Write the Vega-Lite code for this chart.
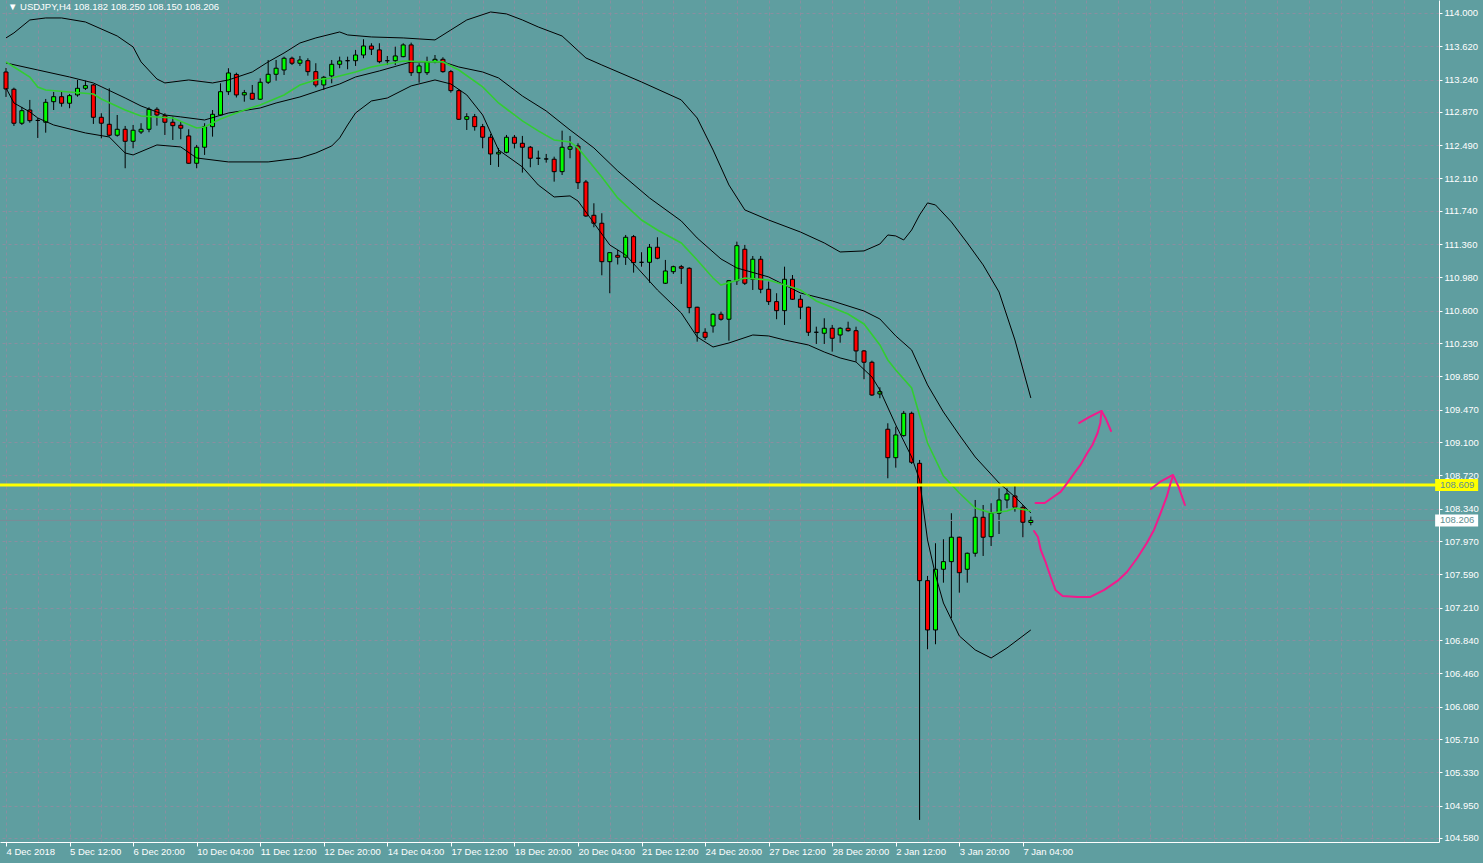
{
  "$schema": "https://vega.github.io/schema/vega-lite/v6.json",
  "width": 1439,
  "height": 842,
  "padding": {"left": 0, "top": 0, "right": 44, "bottom": 21},
  "autosize": {"type": "none"},
  "background": "#5F9EA0",
  "config": {
    "view": {"stroke": null},
    "axis": {"grid": true, "gridColor": "#8a8ea0", "gridDash": [3, 3], "gridWidth": 1, "domainColor": "#ffffff", "domainWidth": 1, "tickColor": "#ffffff", "labelColor": "#ffffff", "labelFont": "Liberation Sans", "labelFontSize": 9.5, "labelOverlap": false, "labelBound": false, "labelFlush": false},
    "axisX": {"labelAlign": "left", "labelBaseline": "top", "labelPadding": 0, "tickSize": 4},
    "axisY": {"labelAlign": "left", "labelBaseline": "middle", "labelPadding": 2, "tickSize": 3}
  },
  "datasets": {
    "candles": [
      {"bar":0,"open":113.326,"high":113.372,"low":113.041,"close":113.132},
      {"bar":1,"open":113.129,"high":113.147,"low":112.710,"close":112.741},
      {"bar":2,"open":112.741,"high":112.927,"low":112.721,"close":112.884},
      {"bar":3,"open":112.892,"high":113.007,"low":112.747,"close":112.770},
      {"bar":4,"open":112.773,"high":112.801,"low":112.573,"close":112.773},
      {"bar":5,"open":112.752,"high":113.018,"low":112.633,"close":112.980},
      {"bar":6,"open":112.987,"high":113.098,"low":112.892,"close":113.044},
      {"bar":7,"open":113.044,"high":113.101,"low":112.930,"close":112.969},
      {"bar":8,"open":112.969,"high":113.075,"low":112.912,"close":113.056},
      {"bar":9,"open":113.064,"high":113.235,"low":113.044,"close":113.140},
      {"bar":10,"open":113.140,"high":113.227,"low":113.121,"close":113.170},
      {"bar":11,"open":113.178,"high":113.189,"low":112.733,"close":112.809},
      {"bar":12,"open":112.809,"high":112.855,"low":112.569,"close":112.741},
      {"bar":13,"open":112.729,"high":113.140,"low":112.588,"close":112.604},
      {"bar":14,"open":112.604,"high":112.835,"low":112.588,"close":112.672},
      {"bar":15,"open":112.672,"high":112.710,"low":112.227,"close":112.535},
      {"bar":16,"open":112.535,"high":112.721,"low":112.455,"close":112.661},
      {"bar":17,"open":112.641,"high":112.741,"low":112.618,"close":112.672},
      {"bar":18,"open":112.672,"high":112.923,"low":112.638,"close":112.900},
      {"bar":19,"open":112.900,"high":112.923,"low":112.713,"close":112.835},
      {"bar":20,"open":112.827,"high":112.855,"low":112.607,"close":112.752},
      {"bar":21,"open":112.752,"high":112.816,"low":112.550,"close":112.713},
      {"bar":22,"open":112.718,"high":112.759,"low":112.558,"close":112.684},
      {"bar":23,"open":112.596,"high":112.672,"low":112.280,"close":112.284},
      {"bar":24,"open":112.284,"high":112.493,"low":112.227,"close":112.467},
      {"bar":25,"open":112.467,"high":112.741,"low":112.379,"close":112.702},
      {"bar":26,"open":112.702,"high":112.892,"low":112.588,"close":112.843},
      {"bar":27,"open":112.835,"high":113.197,"low":112.824,"close":113.101},
      {"bar":28,"open":113.101,"high":113.369,"low":113.064,"close":113.315},
      {"bar":29,"open":113.298,"high":113.318,"low":113.035,"close":113.064},
      {"bar":30,"open":113.064,"high":113.121,"low":112.987,"close":113.090},
      {"bar":31,"open":113.083,"high":113.178,"low":113.007,"close":113.015},
      {"bar":32,"open":113.015,"high":113.254,"low":113.007,"close":113.209},
      {"bar":33,"open":113.209,"high":113.463,"low":113.189,"close":113.300},
      {"bar":34,"open":113.300,"high":113.463,"low":113.227,"close":113.369},
      {"bar":35,"open":113.349,"high":113.501,"low":113.292,"close":113.483},
      {"bar":36,"open":113.483,"high":113.501,"low":113.406,"close":113.426},
      {"bar":37,"open":113.426,"high":113.509,"low":113.395,"close":113.463},
      {"bar":38,"open":113.455,"high":113.483,"low":113.284,"close":113.330},
      {"bar":39,"open":113.330,"high":113.426,"low":113.152,"close":113.178},
      {"bar":40,"open":113.178,"high":113.281,"low":113.121,"close":113.266},
      {"bar":41,"open":113.281,"high":113.463,"low":113.197,"close":113.414},
      {"bar":42,"open":113.414,"high":113.501,"low":113.369,"close":113.452},
      {"bar":43,"open":113.455,"high":113.501,"low":113.357,"close":113.455},
      {"bar":44,"open":113.455,"high":113.578,"low":113.395,"close":113.520},
      {"bar":45,"open":113.520,"high":113.700,"low":113.483,"close":113.623},
      {"bar":46,"open":113.623,"high":113.654,"low":113.520,"close":113.586},
      {"bar":47,"open":113.578,"high":113.654,"low":113.426,"close":113.444},
      {"bar":48,"open":113.455,"high":113.509,"low":113.406,"close":113.455},
      {"bar":49,"open":113.455,"high":113.615,"low":113.406,"close":113.509},
      {"bar":50,"open":113.501,"high":113.654,"low":113.494,"close":113.635},
      {"bar":51,"open":113.635,"high":113.661,"low":113.281,"close":113.318},
      {"bar":52,"open":113.318,"high":113.426,"low":113.204,"close":113.395},
      {"bar":53,"open":113.318,"high":113.501,"low":113.292,"close":113.444},
      {"bar":54,"open":113.444,"high":113.520,"low":113.426,"close":113.471},
      {"bar":55,"open":113.471,"high":113.494,"low":113.318,"close":113.330},
      {"bar":56,"open":113.330,"high":113.349,"low":113.090,"close":113.113},
      {"bar":57,"open":113.113,"high":113.129,"low":112.778,"close":112.786},
      {"bar":58,"open":112.786,"high":112.855,"low":112.664,"close":112.816},
      {"bar":59,"open":112.816,"high":112.847,"low":112.656,"close":112.702},
      {"bar":60,"open":112.702,"high":112.733,"low":112.455,"close":112.581},
      {"bar":61,"open":112.581,"high":112.618,"low":112.264,"close":112.390},
      {"bar":62,"open":112.390,"high":112.459,"low":112.242,"close":112.409},
      {"bar":63,"open":112.409,"high":112.607,"low":112.398,"close":112.581},
      {"bar":64,"open":112.581,"high":112.607,"low":112.453,"close":112.512},
      {"bar":65,"open":112.512,"high":112.596,"low":112.177,"close":112.467},
      {"bar":66,"open":112.467,"high":112.481,"low":112.238,"close":112.341},
      {"bar":67,"open":112.341,"high":112.428,"low":112.264,"close":112.341},
      {"bar":68,"open":112.333,"high":112.390,"low":112.291,"close":112.333},
      {"bar":69,"open":112.330,"high":112.359,"low":112.074,"close":112.188},
      {"bar":70,"open":112.188,"high":112.656,"low":112.150,"close":112.467},
      {"bar":71,"open":112.444,"high":112.596,"low":112.341,"close":112.473},
      {"bar":72,"open":112.481,"high":112.512,"low":111.990,"close":112.062},
      {"bar":73,"open":112.070,"high":112.093,"low":111.671,"close":111.682},
      {"bar":74,"open":111.690,"high":111.827,"low":111.553,"close":111.599},
      {"bar":75,"open":111.599,"high":111.713,"low":111.005,"close":111.160},
      {"bar":76,"open":111.160,"high":111.263,"low":110.800,"close":111.263},
      {"bar":77,"open":111.233,"high":111.294,"low":111.128,"close":111.211},
      {"bar":78,"open":111.211,"high":111.465,"low":111.123,"close":111.439},
      {"bar":79,"open":111.446,"high":111.465,"low":111.035,"close":111.149},
      {"bar":80,"open":111.153,"high":111.268,"low":111.103,"close":111.153},
      {"bar":81,"open":111.153,"high":111.362,"low":110.920,"close":111.325},
      {"bar":82,"open":111.325,"high":111.439,"low":111.188,"close":111.199},
      {"bar":83,"open":110.914,"high":111.180,"low":110.906,"close":111.054},
      {"bar":84,"open":111.046,"high":111.115,"low":111.020,"close":111.103},
      {"bar":85,"open":111.103,"high":111.123,"low":110.906,"close":111.085},
      {"bar":86,"open":111.085,"high":111.096,"low":110.571,"close":110.635},
      {"bar":87,"open":110.640,"high":110.645,"low":110.247,"close":110.350},
      {"bar":88,"open":110.354,"high":110.400,"low":110.266,"close":110.297},
      {"bar":89,"open":110.426,"high":110.571,"low":110.350,"close":110.560},
      {"bar":90,"open":110.560,"high":110.589,"low":110.487,"close":110.503},
      {"bar":91,"open":110.503,"high":110.951,"low":110.258,"close":110.943},
      {"bar":92,"open":110.943,"high":111.389,"low":110.894,"close":111.343},
      {"bar":93,"open":111.302,"high":111.351,"low":110.894,"close":110.914},
      {"bar":94,"open":110.959,"high":111.225,"low":110.837,"close":111.188},
      {"bar":95,"open":111.188,"high":111.225,"low":110.800,"close":110.845},
      {"bar":96,"open":110.845,"high":110.932,"low":110.666,"close":110.704},
      {"bar":97,"open":110.704,"high":110.800,"low":110.503,"close":110.601},
      {"bar":98,"open":110.601,"high":111.103,"low":110.438,"close":110.959},
      {"bar":99,"open":110.959,"high":111.008,"low":110.723,"close":110.731},
      {"bar":100,"open":110.731,"high":110.780,"low":110.503,"close":110.640},
      {"bar":101,"open":110.640,"high":110.647,"low":110.312,"close":110.354},
      {"bar":102,"open":110.354,"high":110.418,"low":110.221,"close":110.354},
      {"bar":103,"open":110.343,"high":110.514,"low":110.221,"close":110.400},
      {"bar":104,"open":110.400,"high":110.438,"low":110.133,"close":110.286},
      {"bar":105,"open":110.323,"high":110.411,"low":110.235,"close":110.400},
      {"bar":106,"open":110.400,"high":110.475,"low":110.361,"close":110.372},
      {"bar":107,"open":110.372,"high":110.418,"low":110.019,"close":110.141},
      {"bar":108,"open":110.141,"high":110.152,"low":109.818,"close":110.012},
      {"bar":109,"open":110.012,"high":110.030,"low":109.627,"close":109.638},
      {"bar":110,"open":109.650,"high":109.726,"low":109.601,"close":109.676},
      {"bar":111,"open":109.247,"high":109.315,"low":108.687,"close":108.922},
      {"bar":112,"open":108.922,"high":109.276,"low":108.808,"close":109.182},
      {"bar":113,"open":109.174,"high":109.456,"low":109.162,"close":109.429},
      {"bar":114,"open":109.429,"high":109.448,"low":108.850,"close":108.870},
      {"bar":115,"open":108.858,"high":108.896,"low":104.786,"close":107.518},
      {"bar":116,"open":107.518,"high":107.572,"low":106.735,"close":106.955},
      {"bar":117,"open":106.955,"high":107.945,"low":106.792,"close":107.648},
      {"bar":118,"open":107.648,"high":107.991,"low":107.495,"close":107.735},
      {"bar":119,"open":107.735,"high":108.288,"low":107.089,"close":108.014},
      {"bar":120,"open":108.014,"high":108.020,"low":107.381,"close":107.609},
      {"bar":121,"open":107.648,"high":107.838,"low":107.495,"close":107.831},
      {"bar":122,"open":107.831,"high":108.439,"low":107.792,"close":108.242},
      {"bar":123,"open":108.242,"high":108.382,"low":107.800,"close":108.014},
      {"bar":124,"open":108.020,"high":108.402,"low":107.914,"close":108.288},
      {"bar":125,"open":108.288,"high":108.573,"low":108.051,"close":108.439},
      {"bar":126,"open":108.439,"high":108.573,"low":108.345,"close":108.508},
      {"bar":127,"open":108.485,"high":108.611,"low":108.306,"close":108.356},
      {"bar":128,"open":108.356,"high":108.382,"low":108.014,"close":108.185},
      {"bar":129,"open":108.182,"high":108.250,"low":108.150,"close":108.206}
    ],
    "bands": [
      {"bar":0,"s":"U","v":113.715},{"bar":1,"s":"U","v":113.772},{"bar":3,"s":"U","v":113.920},{"bar":5,"s":"U","v":113.943},{"bar":7,"s":"U","v":113.943},{"bar":10,"s":"U","v":113.897},{"bar":14,"s":"U","v":113.737},{"bar":16,"s":"U","v":113.612},{"bar":17,"s":"U","v":113.441},{"bar":19,"s":"U","v":113.246},{"bar":20,"s":"U","v":113.201},{"bar":23,"s":"U","v":113.235},{"bar":26,"s":"U","v":113.201},{"bar":28,"s":"U","v":113.235},{"bar":31,"s":"U","v":113.326},{"bar":33,"s":"U","v":113.441},{"bar":35,"s":"U","v":113.543},{"bar":37,"s":"U","v":113.657},{"bar":39,"s":"U","v":113.715},{"bar":42,"s":"U","v":113.783},{"bar":43,"s":"U","v":113.749},{"bar":46,"s":"U","v":113.726},{"bar":50,"s":"U","v":113.715},{"bar":54,"s":"U","v":113.692},{"bar":56,"s":"U","v":113.806},{"bar":58,"s":"U","v":113.920},{"bar":61,"s":"U","v":114.011},{"bar":63,"s":"U","v":113.989},{"bar":65,"s":"U","v":113.920},{"bar":67,"s":"U","v":113.840},{"bar":70,"s":"U","v":113.737},{"bar":73,"s":"U","v":113.486},{"bar":75,"s":"U","v":113.406},{"bar":80,"s":"U","v":113.212},{"bar":85,"s":"U","v":113.007},{"bar":87,"s":"U","v":112.801},{"bar":89,"s":"U","v":112.436},{"bar":91,"s":"U","v":112.036},{"bar":93,"s":"U","v":111.751},{"bar":96,"s":"U","v":111.636},{"bar":100,"s":"U","v":111.499},{"bar":103,"s":"U","v":111.374},{"bar":105,"s":"U","v":111.271},{"bar":108,"s":"U","v":111.283},{"bar":110,"s":"U","v":111.362},{"bar":111,"s":"U","v":111.465},{"bar":112,"s":"U","v":111.454},{"bar":113,"s":"U","v":111.408},{"bar":114,"s":"U","v":111.522},{"bar":115,"s":"U","v":111.694},{"bar":116,"s":"U","v":111.831},{"bar":117,"s":"U","v":111.808},{"bar":119,"s":"U","v":111.614},{"bar":121,"s":"U","v":111.374},{"bar":123,"s":"U","v":111.123},{"bar":125,"s":"U","v":110.814},{"bar":127,"s":"U","v":110.266},{"bar":129,"s":"U","v":109.604},
      {"bar":0,"s":"M","v":113.429},{"bar":4,"s":"M","v":113.349},{"bar":8,"s":"M","v":113.269},{"bar":11,"s":"M","v":113.201},{"bar":15,"s":"M","v":113.029},{"bar":17,"s":"M","v":112.938},{"bar":20,"s":"M","v":112.835},{"bar":22,"s":"M","v":112.813},{"bar":25,"s":"M","v":112.778},{"bar":28,"s":"M","v":112.858},{"bar":32,"s":"M","v":112.915},{"bar":34,"s":"M","v":112.972},{"bar":37,"s":"M","v":113.041},{"bar":40,"s":"M","v":113.132},{"bar":42,"s":"M","v":113.189},{"bar":44,"s":"M","v":113.269},{"bar":47,"s":"M","v":113.338},{"bar":51,"s":"M","v":113.441},{"bar":55,"s":"M","v":113.441},{"bar":57,"s":"M","v":113.383},{"bar":60,"s":"M","v":113.326},{"bar":62,"s":"M","v":113.258},{"bar":65,"s":"M","v":113.052},{"bar":68,"s":"M","v":112.881},{"bar":71,"s":"M","v":112.664},{"bar":74,"s":"M","v":112.459},{"bar":77,"s":"M","v":112.196},{"bar":81,"s":"M","v":111.888},{"bar":85,"s":"M","v":111.625},{"bar":87,"s":"M","v":111.431},{"bar":90,"s":"M","v":111.191},{"bar":92,"s":"M","v":111.088},{"bar":96,"s":"M","v":110.986},{"bar":100,"s":"M","v":110.803},{"bar":104,"s":"M","v":110.712},{"bar":108,"s":"M","v":110.597},{"bar":110,"s":"M","v":110.506},{"bar":112,"s":"M","v":110.312},{"bar":114,"s":"M","v":110.152},{"bar":116,"s":"M","v":109.753},{"bar":118,"s":"M","v":109.444},{"bar":120,"s":"M","v":109.182},{"bar":122,"s":"M","v":108.930},{"bar":125,"s":"M","v":108.634},{"bar":127,"s":"M","v":108.474},{"bar":129,"s":"M","v":108.291},
      {"bar":0,"s":"L","v":113.144},{"bar":1,"s":"L","v":112.972},{"bar":3,"s":"L","v":112.870},{"bar":4,"s":"L","v":112.801},{"bar":6,"s":"L","v":112.721},{"bar":10,"s":"L","v":112.630},{"bar":13,"s":"L","v":112.584},{"bar":15,"s":"L","v":112.401},{"bar":16,"s":"L","v":112.379},{"bar":19,"s":"L","v":112.493},{"bar":22,"s":"L","v":112.470},{"bar":24,"s":"L","v":112.344},{"bar":28,"s":"L","v":112.299},{"bar":33,"s":"L","v":112.299},{"bar":37,"s":"L","v":112.344},{"bar":39,"s":"L","v":112.401},{"bar":41,"s":"L","v":112.481},{"bar":42,"s":"L","v":112.573},{"bar":43,"s":"L","v":112.721},{"bar":44,"s":"L","v":112.858},{"bar":46,"s":"L","v":112.995},{"bar":48,"s":"L","v":113.029},{"bar":51,"s":"L","v":113.167},{"bar":54,"s":"L","v":113.235},{"bar":56,"s":"L","v":113.189},{"bar":58,"s":"L","v":113.064},{"bar":60,"s":"L","v":112.835},{"bar":62,"s":"L","v":112.436},{"bar":65,"s":"L","v":112.242},{"bar":67,"s":"L","v":112.036},{"bar":69,"s":"L","v":111.899},{"bar":71,"s":"L","v":111.911},{"bar":72,"s":"L","v":111.853},{"bar":74,"s":"L","v":111.602},{"bar":76,"s":"L","v":111.351},{"bar":78,"s":"L","v":111.237},{"bar":82,"s":"L","v":110.837},{"bar":85,"s":"L","v":110.574},{"bar":87,"s":"L","v":110.301},{"bar":89,"s":"L","v":110.186},{"bar":91,"s":"L","v":110.232},{"bar":94,"s":"L","v":110.323},{"bar":96,"s":"L","v":110.312},{"bar":98,"s":"L","v":110.266},{"bar":101,"s":"L","v":110.209},{"bar":103,"s":"L","v":110.129},{"bar":105,"s":"L","v":110.061},{"bar":107,"s":"L","v":110.015},{"bar":109,"s":"L","v":109.844},{"bar":110,"s":"L","v":109.695},{"bar":112,"s":"L","v":109.296},{"bar":114,"s":"L","v":108.930},{"bar":115,"s":"L","v":108.668},{"bar":116,"s":"L","v":107.983},{"bar":117,"s":"L","v":107.583},{"bar":118,"s":"L","v":107.263},{"bar":120,"s":"L","v":106.887},{"bar":122,"s":"L","v":106.727},{"bar":124,"s":"L","v":106.635},{"bar":126,"s":"L","v":106.750},{"bar":129,"s":"L","v":106.955},
      {"bar":0,"s":"G","v":113.441},{"bar":1,"s":"G","v":113.383},{"bar":3,"s":"G","v":113.269},{"bar":4,"s":"G","v":113.155},{"bar":5,"s":"G","v":113.121},{"bar":8,"s":"G","v":113.098},{"bar":11,"s":"G","v":113.075},{"bar":12,"s":"G","v":113.018},{"bar":15,"s":"G","v":112.892},{"bar":17,"s":"G","v":112.824},{"bar":21,"s":"G","v":112.801},{"bar":24,"s":"G","v":112.687},{"bar":25,"s":"G","v":112.698},{"bar":27,"s":"G","v":112.790},{"bar":30,"s":"G","v":112.892},{"bar":32,"s":"G","v":112.950},{"bar":35,"s":"G","v":113.064},{"bar":37,"s":"G","v":113.178},{"bar":39,"s":"G","v":113.235},{"bar":41,"s":"G","v":113.258},{"bar":44,"s":"G","v":113.326},{"bar":46,"s":"G","v":113.383},{"bar":50,"s":"G","v":113.452},{"bar":53,"s":"G","v":113.441},{"bar":55,"s":"G","v":113.441},{"bar":57,"s":"G","v":113.349},{"bar":60,"s":"G","v":113.155},{"bar":62,"s":"G","v":112.972},{"bar":65,"s":"G","v":112.767},{"bar":67,"s":"G","v":112.653},{"bar":69,"s":"G","v":112.550},{"bar":71,"s":"G","v":112.527},{"bar":72,"s":"G","v":112.459},{"bar":75,"s":"G","v":112.127},{"bar":77,"s":"G","v":111.888},{"bar":80,"s":"G","v":111.636},{"bar":82,"s":"G","v":111.522},{"bar":85,"s":"G","v":111.374},{"bar":87,"s":"G","v":111.180},{"bar":89,"s":"G","v":110.974},{"bar":90,"s":"G","v":110.894},{"bar":93,"s":"G","v":110.974},{"bar":96,"s":"G","v":110.951},{"bar":100,"s":"G","v":110.837},{"bar":102,"s":"G","v":110.712},{"bar":106,"s":"G","v":110.563},{"bar":108,"s":"G","v":110.449},{"bar":110,"s":"G","v":110.209},{"bar":111,"s":"G","v":110.038},{"bar":112,"s":"G","v":109.924},{"bar":114,"s":"G","v":109.718},{"bar":116,"s":"G","v":109.090},{"bar":118,"s":"G","v":108.713},{"bar":120,"s":"G","v":108.519},{"bar":122,"s":"G","v":108.348},{"bar":124,"s":"G","v":108.291},{"bar":126,"s":"G","v":108.314},{"bar":127,"s":"G","v":108.348},{"bar":129,"s":"G","v":108.314}
    ],
    "arrows": [
      {"seg":"a1","ord":1,"bar":129.6,"p":108.405},{"seg":"a1","ord":2,"bar":130.75,"p":108.405},{"seg":"a1","ord":3,"bar":132.0,"p":108.485},{"seg":"a1","ord":4,"bar":132.75,"p":108.531},{"seg":"a1","ord":5,"bar":133.6,"p":108.634},{"seg":"a1","ord":6,"bar":134.5,"p":108.748},{"seg":"a1","ord":7,"bar":135.25,"p":108.839},{"seg":"a1","ord":8,"bar":136.1,"p":108.976},{"seg":"a1","ord":9,"bar":136.75,"p":109.067},{"seg":"a1","ord":10,"bar":137.4,"p":109.204},{"seg":"a1","ord":11,"bar":137.75,"p":109.319},{"seg":"a1","ord":12,"bar":137.9,"p":109.456},
      {"seg":"a1h","ord":1,"bar":135.1,"p":109.319},{"seg":"a1h","ord":2,"bar":136.4,"p":109.387},{"seg":"a1h","ord":3,"bar":137.9,"p":109.456},{"seg":"a1h","ord":4,"bar":138.4,"p":109.376},{"seg":"a1h","ord":5,"bar":139.1,"p":109.227},
      {"seg":"a2","ord":1,"bar":129.4,"p":108.085},{"seg":"a2","ord":2,"bar":129.9,"p":108.017},{"seg":"a2","ord":3,"bar":130.25,"p":107.869},{"seg":"a2","ord":4,"bar":130.9,"p":107.720},{"seg":"a2","ord":5,"bar":131.5,"p":107.560},{"seg":"a2","ord":6,"bar":132.1,"p":107.412},{"seg":"a2","ord":7,"bar":133.0,"p":107.343},{"seg":"a2","ord":8,"bar":134.9,"p":107.332},{"seg":"a2","ord":9,"bar":136.5,"p":107.332},{"seg":"a2","ord":10,"bar":138.25,"p":107.412},{"seg":"a2","ord":11,"bar":139.9,"p":107.515},{"seg":"a2","ord":12,"bar":141.1,"p":107.617},{"seg":"a2","ord":13,"bar":142.4,"p":107.777},{"seg":"a2","ord":14,"bar":143.6,"p":107.948},{"seg":"a2","ord":15,"bar":144.5,"p":108.097},{"seg":"a2","ord":16,"bar":145.25,"p":108.268},{"seg":"a2","ord":17,"bar":146.1,"p":108.474},{"seg":"a2","ord":18,"bar":146.6,"p":108.634},{"seg":"a2","ord":19,"bar":146.9,"p":108.713},
      {"seg":"a2h","ord":1,"bar":144.1,"p":108.565},{"seg":"a2h","ord":2,"bar":145.25,"p":108.645},{"seg":"a2h","ord":3,"bar":146.9,"p":108.725},{"seg":"a2h","ord":4,"bar":147.6,"p":108.588},{"seg":"a2h","ord":5,"bar":148.4,"p":108.382}
    ],
    "one": [{}]
  },
  "data": {"name": "candles"},
  "layer": [
    {
      "mark": {"type": "rule", "color": "#000000", "strokeWidth": 1},
      "encoding": {
        "x": {"field": "bar", "type": "quantitative", "scale": {"domain": [-0.125, 179.75], "nice": false, "zero": false},
          "axis": {
            "values": [0,4,8,12,16,20,24,28,32,36,40,44,48,52,56,60,64,68,72,76,80,84,88,92,96,100,104,108,112,116,120,124,128,132,136,140,144,148,152,156,160,164,168,172,176],
            "tickCount": 200,
            "labelExpr": "(datum.value % 8 == 0 && datum.value <= 128) ? ['4 Dec 2018','5 Dec 12:00','6 Dec 20:00','10 Dec 04:00','11 Dec 12:00','12 Dec 20:00','14 Dec 04:00','17 Dec 12:00','18 Dec 20:00','20 Dec 04:00','21 Dec 12:00','24 Dec 20:00','27 Dec 12:00','28 Dec 20:00','2 Jan 12:00','3 Jan 20:00','7 Jan 04:00'][datum.value / 8] : ''",
            "title": null,
            "tickOpacity": {"condition": {"test": "datum.value % 8 == 0 && datum.value <= 128", "value": 1}, "value": 0},
            "labelOverlap": false
          }
        },
        "y": {"field": "low", "type": "quantitative", "scale": {"domain": [104.534, 114.148], "nice": false, "zero": false},
          "axis": {
            "orient": "right",
            "values": [114.0, 113.62, 113.24, 112.87, 112.49, 112.11, 111.74, 111.36, 110.98, 110.6, 110.23, 109.85, 109.47, 109.1, 108.72, 108.34, 107.97, 107.59, 107.21, 106.84, 106.46, 106.08, 105.71, 105.33, 104.95, 104.58],
            "tickCount": 200,
            "format": ".3f",
            "title": null,
            "labelOverlap": false
          }
        },
        "y2": {"field": "high"}
      }
    },
    {
      "data": {"name": "one"},
      "mark": {"type": "rule", "color": "#7d8a96", "strokeWidth": 1},
      "encoding": {
        "y": {"datum": 108.206, "type": "quantitative"}
      }
    },
    {
      "mark": {"type": "bar", "width": 4, "stroke": "#000000", "strokeWidth": 1},
      "encoding": {
        "x": {"field": "bar", "type": "quantitative"},
        "y": {"field": "open", "type": "quantitative"},
        "y2": {"field": "close"},
        "fill": {"condition": {"test": "datum.close > datum.open", "value": "#00ff00"}, "value": "#ff0000"}
      }
    },
    {
      "data": {"name": "bands"},
      "transform": [{"filter": "datum.s != 'G'"}],
      "mark": {"type": "line", "color": "#000000", "strokeWidth": 1},
      "encoding": {
        "x": {"field": "bar", "type": "quantitative"},
        "y": {"field": "v", "type": "quantitative"},
        "detail": {"field": "s"}
      }
    },
    {
      "data": {"name": "bands"},
      "transform": [{"filter": "datum.s == 'G'"}],
      "mark": {"type": "line", "color": "#32cd32", "strokeWidth": 1.6},
      "encoding": {
        "x": {"field": "bar", "type": "quantitative"},
        "y": {"field": "v", "type": "quantitative"}
      }
    },
    {
      "data": {"name": "one"},
      "mark": {"type": "rule", "color": "#ffff00", "strokeWidth": 3},
      "encoding": {
        "y": {"datum": 108.609, "type": "quantitative"}
      }
    },
    {
      "data": {"name": "arrows"},
      "mark": {"type": "line", "color": "#f21a8c", "strokeWidth": 2, "strokeCap": "round", "strokeJoin": "round"},
      "encoding": {
        "x": {"field": "bar", "type": "quantitative"},
        "y": {"field": "p", "type": "quantitative"},
        "detail": {"field": "seg"},
        "order": {"field": "ord"}
      }
    },
    {
      "data": {"name": "one"},
      "mark": {"type": "tick", "orient": "horizontal", "color": "#ffff00", "size": 43, "thickness": 12, "opacity": 1},
      "encoding": {
        "x": {"datum": 182.6, "type": "quantitative"},
        "y": {"datum": 108.609, "type": "quantitative"}
      }
    },
    {
      "data": {"name": "one"},
      "mark": {"type": "tick", "orient": "horizontal", "color": "#ffffff", "size": 43, "thickness": 12, "opacity": 1},
      "encoding": {
        "x": {"datum": 182.6, "type": "quantitative"},
        "y": {"datum": 108.206, "type": "quantitative"}
      }
    },
    {
      "data": {"name": "one"},
      "mark": {"type": "text", "align": "left", "baseline": "middle", "font": "Liberation Sans", "fontSize": 9.5, "color": "#5f8f90"},
      "encoding": {
        "x": {"datum": 180.5, "type": "quantitative"},
        "y": {"datum": 108.609, "type": "quantitative"},
        "text": {"value": "108.609"}
      }
    },
    {
      "data": {"name": "one"},
      "mark": {"type": "text", "align": "left", "baseline": "middle", "font": "Liberation Sans", "fontSize": 9.5, "color": "#5f8f90"},
      "encoding": {
        "x": {"datum": 180.5, "type": "quantitative"},
        "y": {"datum": 108.206, "type": "quantitative"},
        "text": {"value": "108.206"}
      }
    },
    {
      "data": {"name": "one"},
      "mark": {"type": "text", "align": "left", "baseline": "alphabetic", "font": "Liberation Sans", "fontSize": 9.5, "color": "#ffffff"},
      "encoding": {
        "x": {"datum": 0.25, "type": "quantitative"},
        "y": {"datum": 114.034, "type": "quantitative"},
        "text": {"value": "▼ USDJPY,H4  108.182 108.250 108.150 108.206"}
      }
    }
  ]
}
